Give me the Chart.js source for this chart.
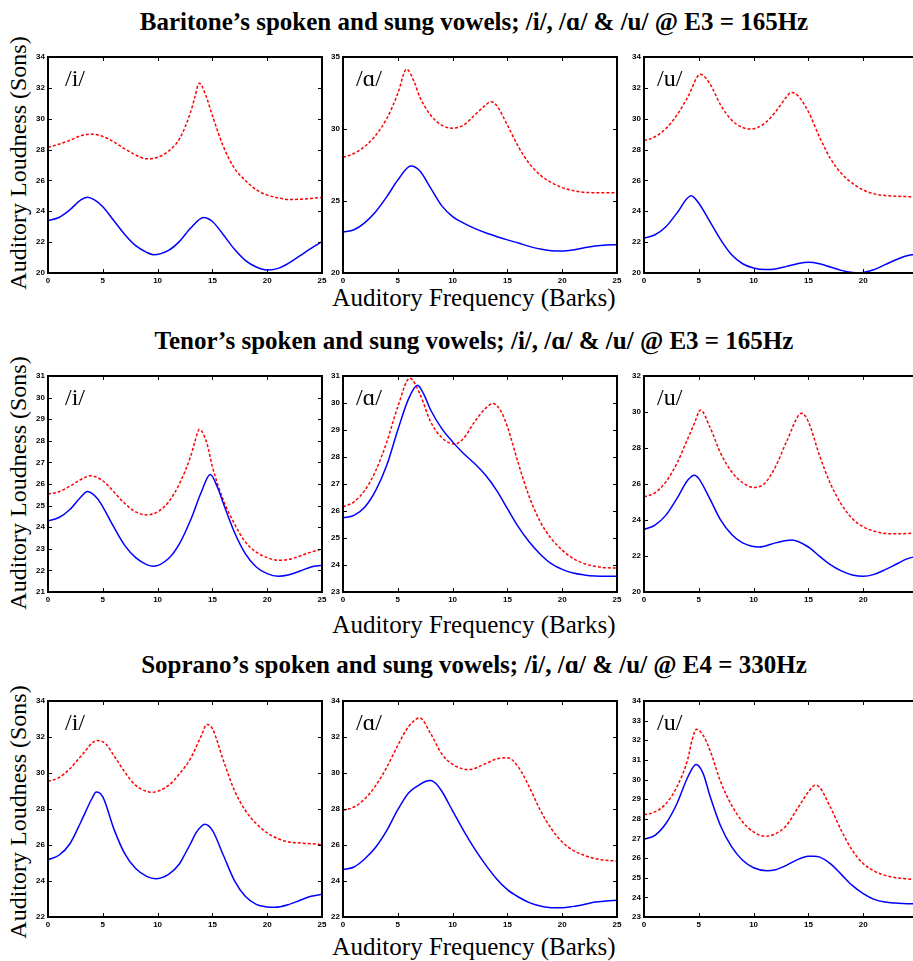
<!DOCTYPE html>
<html>
<head>
<meta charset="utf-8">
<script src="https://cdn.jsdelivr.net/npm/chart.js@4.4.1/dist/chart.umd.min.js"></script>
<style>
  html, body { margin: 0; padding: 0; background: #fff; width: 913px; height: 961px; overflow: hidden; }
  .serif { position: absolute; font-family: "Liberation Serif", "Times New Roman", serif; color: #000; white-space: nowrap; text-align: center; }
  .title { font-weight: bold; font-size: 25px; line-height: 28px; width: 800px; }
  .xlab { font-size: 25px; line-height: 28px; width: 400px; }
  .ylab { font-size: 24px; line-height: 28px; width: 300px; transform: rotate(-90deg); transform-origin: 50% 50%; }
  .panel { position: absolute; }
</style>
</head>
<body>
<script>
// Auditory frequency in Barks (x) and loudness in Sons (y), as [bark, sons] pairs.
// Blue solid = spoken vowel, red dashed = sung vowel.

// ---- Baritone, E3 = 165 Hz ----
const baritoneISpoken = [[0,23.4],[1,23.6],[2,24.1],[3,24.74],[3.6,24.91],[4.2,24.75],[5,24.3],[6,23.4],[7,22.5],[8,21.77],[9,21.34],[9.6,21.19],[11,21.47],[12,22.05],[13,22.9],[14.2,23.6],[15,23.34],[16,22.48],[17,21.55],[18,20.82],[19,20.39],[20,20.2],[21,20.3],[22,20.65],[23,21.12],[24,21.6],[25,22.03]];
const baritoneISung = [[0,28.15],[1,28.35],[2,28.6],[3,28.9],[3.9,29.0],[5,28.85],[6,28.5],[7,28.05],[8,27.65],[9,27.4],[10,27.5],[11,27.9],[12,28.7],[13,30.4],[13.4,31.4],[13.8,32.3],[14.4,31.5],[15,30.2],[16,28.2],[17,26.8],[18,26.0],[19,25.4],[20,25.05],[21,24.87],[22,24.76],[23,24.78],[24,24.83],[25,24.9]];
const baritoneASpoken = [[0,22.84],[1,23.0],[2,23.5],[3,24.27],[4,25.3],[5,26.46],[6.2,27.43],[7,27.1],[8,25.9],[9,24.68],[10,23.92],[11,23.46],[12,23.1],[13,22.8],[14,22.54],[15,22.3],[16,22.08],[17,21.85],[18,21.66],[19,21.55],[20,21.52],[21,21.6],[22,21.75],[23,21.87],[24,21.94],[25,21.96]];
const baritoneASung = [[0,28.03],[1,28.3],[2,28.8],[3,29.58],[4,30.73],[5,32.46],[5.8,34.15],[6.5,33.27],[7,32.23],[8,30.96],[9,30.27],[10,30.06],[11,30.27],[12,30.96],[13,31.65],[13.5,31.9],[14,31.65],[15,30.27],[16,28.77],[17,27.6],[18,26.8],[19,26.28],[20,25.93],[21,25.72],[22,25.6],[23,25.58],[24,25.58],[25,25.58]];
const baritoneUSpoken = [[0,22.26],[1,22.48],[2,23.0],[3,23.88],[4.3,25.0],[5,24.52],[6,23.34],[7,22.15],[8,21.18],[9,20.6],[10,20.32],[11,20.22],[12,20.26],[13,20.43],[14,20.6],[15,20.69],[16,20.6],[17,20.39],[18,20.17],[19,20.04],[19.8,20.02],[21,20.22],[22,20.54],[23,20.86],[24,21.12],[25,21.23]];
const baritoneUSung = [[0,28.57],[1,28.83],[2,29.37],[3,30.23],[4,31.41],[5.15,32.88],[6,32.28],[7,30.88],[8,29.91],[9,29.43],[9.7,29.33],[11,29.7],[12,30.45],[13,31.41],[13.4,31.7],[14,31.52],[15,30.45],[16,28.83],[17,27.43],[18,26.46],[19,25.82],[20,25.38],[21,25.13],[22,25.02],[23,24.98],[24,24.95],[25,24.95]];

// ---- Tenor, E3 = 165 Hz ----
const tenorISpoken = [[0,24.29],[1,24.45],[2,24.82],[3,25.4],[3.6,25.65],[4.5,25.33],[5,24.94],[6,24.01],[7,23.16],[8,22.59],[9,22.27],[9.6,22.19],[11,22.55],[12,23.24],[13,24.32],[14,25.64],[14.8,26.44],[15.5,25.8],[16,25.1],[17,23.78],[18,22.78],[19,22.16],[20,21.85],[21,21.73],[22,21.8],[23,21.97],[24,22.16],[25,22.24]];
const tenorISung = [[0,25.53],[1,25.64],[2,25.9],[3,26.21],[3.9,26.38],[5,26.15],[6,25.64],[7,25.1],[8,24.71],[9,24.57],[10,24.71],[11,25.17],[12,26.02],[13,27.26],[13.4,27.95],[13.8,28.53],[14.5,27.88],[15,26.8],[16,25.25],[17,24.17],[18,23.32],[19,22.85],[20,22.59],[21,22.47],[22,22.51],[23,22.67],[24,22.85],[25,22.98]];
const tenorASpoken = [[0,25.74],[1,25.84],[2,26.15],[3,26.77],[4,27.7],[5,29.0],[6,30.17],[6.8,30.66],[7.4,30.3],[8,29.74],[9,29.06],[10,28.56],[11,28.13],[12,27.76],[13,27.33],[14,26.77],[15,26.09],[16,25.41],[17,24.85],[18,24.4],[19,24.05],[20,23.84],[21,23.7],[22,23.63],[23,23.59],[24,23.58],[25,23.58]];
const tenorASung = [[0,26.15],[1,26.34],[2,26.77],[3,27.51],[4,28.56],[5,29.86],[6.1,30.92],[7,30.35],[8,29.3],[9,28.72],[10.2,28.48],[11,28.69],[12,29.3],[13,29.8],[13.7,29.98],[14.4,29.7],[15,29.12],[16,27.76],[17,26.52],[18,25.6],[19,24.98],[20,24.55],[21,24.24],[22,24.05],[23,23.95],[24,23.9],[25,23.89]];
const tenorUSpoken = [[0,23.47],[1,23.71],[2,24.27],[3,25.19],[4,26.22],[4.6,26.49],[5,26.3],[6,25.19],[7,23.99],[8,23.19],[9,22.73],[10.5,22.5],[12,22.73],[13.5,22.89],[15,22.5],[16,21.99],[17,21.52],[18,21.17],[19,20.95],[20,20.87],[21,20.98],[22,21.24],[23,21.54],[24,21.84],[25,22.0]];
const tenorUSung = [[0,25.29],[1,25.51],[2,26.12],[3,27.14],[4,28.53],[4.6,29.37],[5.15,30.11],[6,29.18],[7,27.7],[8,26.68],[9,26.07],[10,25.81],[11,26.03],[12,26.96],[13,28.35],[14.4,29.93],[15,29.46],[16,27.61],[17,26.03],[18,24.88],[19,24.08],[20,23.62],[21,23.38],[22,23.25],[23,23.23],[24,23.25],[25,23.27]];

// ---- Soprano, E4 = 330 Hz ----
const sopranoISpoken = [[0,25.19],[1,25.43],[2,26.07],[3,27.28],[4,28.57],[4.4,28.94],[5,28.67],[6,26.91],[7,25.52],[8,24.69],[9,24.26],[9.8,24.13],[11,24.37],[12,24.96],[12.5,25.5],[13,26.07],[13.5,26.67],[14,27.04],[14.3,27.15],[15,26.81],[16,25.43],[17,24.04],[18,23.15],[19,22.7],[20,22.56],[20.7,22.54],[22,22.7],[23,22.93],[24,23.15],[25,23.26]];
const sopranoISung = [[0,29.54],[1,29.74],[2,30.24],[3,30.93],[4.5,31.81],[5.3,31.6],[6,30.98],[7,30.06],[8,29.31],[9.5,28.93],[11,29.31],[12,29.96],[13,30.8],[14,32.09],[14.5,32.7],[15,32.46],[16,30.7],[17,29.04],[18,27.93],[19,27.19],[20,26.67],[21,26.35],[22,26.17],[23,26.11],[24,26.07],[25,26.02]];
const sopranoASpoken = [[0,24.63],[1,24.78],[2,25.24],[3,25.89],[4,26.81],[5,27.96],[6,28.9],[7,29.35],[7.5,29.53],[8,29.59],[8.5,29.4],[9,29.0],[10,27.9],[11,26.8],[12,25.8],[13,24.91],[14,24.13],[15,23.52],[16,23.11],[17,22.8],[18,22.61],[19,22.52],[20,22.52],[21,22.59],[22,22.7],[23,22.83],[24,22.89],[25,22.93]];
const sopranoASung = [[0,27.93],[1,28.11],[2,28.57],[3,29.31],[4,30.33],[5,31.54],[6,32.59],[7,33.06],[8,32.19],[9,31.07],[10,30.48],[11.5,30.19],[13,30.52],[14,30.78],[15,30.85],[16,30.33],[17,29.22],[18,27.93],[19,26.91],[20,26.17],[21,25.7],[22,25.43],[23,25.24],[24,25.15],[25,25.11]];
const sopranoUSpoken = [[0,26.96],[1,27.16],[2,27.76],[3,28.77],[4,30.13],[4.75,30.76],[5.4,30.3],[6,29.2],[7,27.62],[8,26.57],[9,25.89],[10,25.51],[11.2,25.36],[12,25.41],[13,25.63],[14,25.92],[15,26.09],[15.5,26.1],[16,26.06],[17,25.72],[18,25.17],[19,24.61],[20,24.19],[21,23.9],[22,23.76],[23,23.71],[24,23.68],[25,23.68]];
const sopranoUSung = [[0,28.2],[1,28.35],[2,28.77],[3,29.62],[4,31.05],[4.4,32.05],[4.8,32.56],[5.4,32.25],[6,31.52],[7,29.87],[8,28.69],[9,27.84],[10,27.33],[11,27.11],[12,27.24],[13,27.67],[14,28.52],[15,29.37],[15.6,29.71],[16,29.62],[17,28.6],[18,27.41],[19,26.4],[20,25.72],[21,25.34],[22,25.12],[23,25.0],[24,24.94],[25,24.9]];

// Text
const rowTitles = [
  "Baritone\u2019s spoken and sung vowels; /i/, /\u0251/ & /u/ @ E3 = 165Hz",
  "Tenor\u2019s spoken and sung vowels; /i/, /\u0251/ & /u/ @ E3 = 165Hz",
  "Soprano\u2019s spoken and sung vowels; /i/, /\u0251/ & /u/ @ E4 = 330Hz"
];
const vowelLabels = ["/i/", "/\u0251/", "/u/"];
const xAxisTitle = "Auditory Frequency (Barks)";
const yAxisTitle = "Auditory Loudness (Sons)";

// Frequency axis range and tick step (Barks)
const barkRange = [0, 25, 5];
// Loudness axis [min, max, step] per row, per column
const loudnessRanges = [
  [[20, 34, 2], [20, 35, 5], [20, 34, 2]],
  [[21, 31, 1], [23, 31, 1], [20, 32, 2]],
  [[22, 34, 2], [22, 34, 2], [23, 34, 1]]
];
const seriesGrid = [
  [[baritoneISpoken, baritoneISung], [baritoneASpoken, baritoneASung], [baritoneUSpoken, baritoneUSung]],
  [[tenorISpoken, tenorISung], [tenorASpoken, tenorASung], [tenorUSpoken, tenorUSung]],
  [[sopranoISpoken, sopranoISung], [sopranoASpoken, sopranoASung], [sopranoUSpoken, sopranoUSung]]
];

// ---- Page geometry ----
const colLeft = [48, 343, 644];
const rowTop = [57, 376, 701];
const plotW = 274, plotH = 216;
const AXIS_Y_W = 30, AXIS_X_H = 16, PAD_T = 10, PAD_R = 10;
const titleCenterY = [22, 341, 665];
const xTitleCenterY = [298, 625, 947];
const yTitleCenterY = [163, 483, 812];
const labelDx = [17, 13, 13];

function addText(cls, text, left, top) {
  const d = document.createElement('div');
  d.className = 'serif ' + cls;
  d.textContent = text;
  d.style.left = left + 'px';
  d.style.top = top + 'px';
  document.body.appendChild(d);
}

for (let r = 0; r < 3; r++) {
  addText('title', rowTitles[r], 474 - 400, titleCenterY[r] - 14);
  addText('xlab', xAxisTitle, 474 - 200, xTitleCenterY[r] - 14);
  addText('ylab', yAxisTitle, 18 - 150, yTitleCenterY[r] - 14);
}

// Box frame, inward ticks on all four sides, vowel label
const framePlugin = {
  id: 'frame',
  afterDatasetsDraw(chart, args, opts) {
    const { ctx, chartArea: a } = chart;
    const x = chart.scales.x, y = chart.scales.y;
    ctx.save();
    ctx.strokeStyle = '#000';
    ctx.lineWidth = 1;
    ctx.beginPath();
    x.ticks.forEach(t => {
      const p = Math.round(x.getPixelForValue(t.value)) + 0.5;
      ctx.moveTo(p, a.bottom); ctx.lineTo(p, a.bottom - 4);
      ctx.moveTo(p, a.top); ctx.lineTo(p, a.top + 4);
    });
    y.ticks.forEach(t => {
      const p = Math.round(y.getPixelForValue(t.value)) + 0.5;
      ctx.moveTo(a.left, p); ctx.lineTo(a.left + 4, p);
      ctx.moveTo(a.right, p); ctx.lineTo(a.right - 4, p);
    });
    ctx.stroke();
    ctx.lineWidth = 2;
    ctx.strokeRect(a.left, a.top, a.right - a.left, a.bottom - a.top);
    ctx.fillStyle = '#000';
    ctx.font = '24px "Liberation Serif", "Times New Roman", serif';
    ctx.textBaseline = 'alphabetic';
    ctx.textAlign = 'left';
    ctx.fillText(opts.label, a.left + opts.dx, a.top + 29);
    ctx.restore();
  }
};

const tickFont = { family: '"Liberation Sans", Arial, sans-serif', size: 8, weight: 'bold' };

for (let r = 0; r < 3; r++) {
  for (let c = 0; c < 3; c++) {
    const [yMin, yMax, yStep] = loudnessRanges[r][c];
    const [spoken, sung] = seriesGrid[r][c];
    const wrap = document.createElement('div');
    wrap.className = 'panel';
    wrap.style.left = (colLeft[c] - AXIS_Y_W) + 'px';
    wrap.style.top = (rowTop[r] - PAD_T) + 'px';
    const cv = document.createElement('canvas');
    cv.width = AXIS_Y_W + plotW + PAD_R;
    cv.height = PAD_T + plotH + AXIS_X_H;
    wrap.appendChild(cv);
    document.body.appendChild(wrap);

    new Chart(cv, {
      type: 'line',
      data: {
        datasets: [
          {
            label: 'Spoken',
            data: spoken.map(([x, y]) => ({ x, y })),
            borderColor: '#0000ff',
            borderWidth: 1.5,
            pointRadius: 0,
            fill: false,
            cubicInterpolationMode: 'monotone'
          },
          {
            label: 'Sung',
            data: sung.map(([x, y]) => ({ x, y })),
            borderColor: '#ff0000',
            borderWidth: 1.5,
            borderDash: [3, 2],
            pointRadius: 0,
            fill: false,
            cubicInterpolationMode: 'monotone'
          }
        ]
      },
      options: {
        responsive: false,
        animation: false,
        devicePixelRatio: 1,
        layout: { padding: { top: PAD_T, right: PAD_R, left: 0, bottom: 0 } },
        plugins: {
          legend: { display: false },
          tooltip: { enabled: false },
          frame: { label: vowelLabels[c], dx: labelDx[c] }
        },
        scales: {
          x: {
            type: 'linear',
            min: barkRange[0], max: barkRange[1],
            afterFit: s => { s.height = AXIS_X_H; },
            grid: { display: false, drawTicks: false },
            border: { display: false },
            ticks: { stepSize: barkRange[2], padding: 3, color: '#000', font: tickFont, maxRotation: 0, autoSkip: false }
          },
          y: {
            type: 'linear',
            min: yMin, max: yMax,
            afterFit: s => { s.width = AXIS_Y_W; },
            grid: { display: false, drawTicks: false },
            border: { display: false },
            ticks: { stepSize: yStep, padding: 3, color: '#000', font: tickFont, autoSkip: false }
          }
        }
      },
      plugins: [framePlugin]
    });
  }
}
</script>
</body>
</html>
